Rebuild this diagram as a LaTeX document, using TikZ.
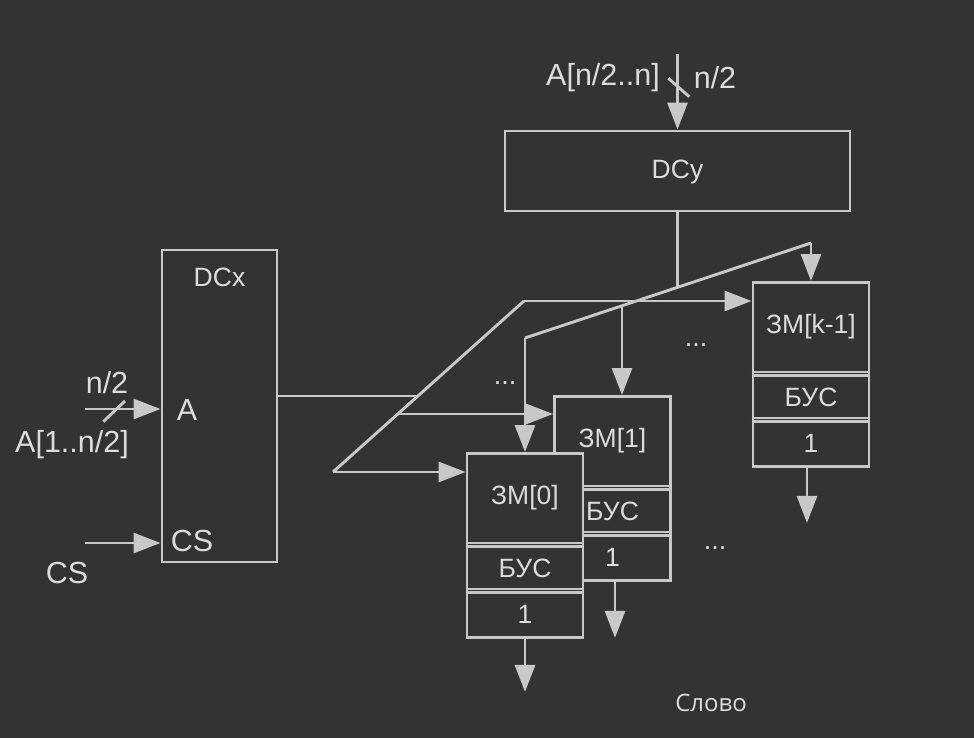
\documentclass[tikz,border=0pt]{standalone}
\usepackage{fontspec}
\setmainfont{Liberation Sans}
\newfontfamily\opensans{Open Sans}
\usetikzlibrary{arrows.meta,calc}
\definecolor{bgc}{HTML}{333333}
\definecolor{linec}{HTML}{C8C8C8}
\definecolor{txtc}{HTML}{DCDCDC}
\tikzset{
  ln/.style={draw=linec, line width=2.9pt},
  arr/.style={ln, -{Triangle[length=27pt,width=20pt]}},
  blk/.style={rectangle, draw=linec, fill=bgc, line width=2.9pt, inner sep=0pt},
  zmbox/.style={blk, minimum width=116pt, minimum height=184pt},
  lbl/.style={text=txtc, inner sep=0pt, font=\fontsize{26.5}{31}\selectfont},
  biglbl/.style={text=txtc, inner sep=0pt, font=\fontsize{30.5}{35}\selectfont},
  dotlbl/.style={text=txtc, inner sep=0pt, font=\fontsize{27}{31}\selectfont},
}
\newcommand\zmunit[4]{%
  \node[zmbox, anchor=north] (#1) at (#2,#3) {};
  \draw[ln] ($(#1.north west)+(0,91)$) -- ($(#1.north east)+(0,91)$);
  \draw[ln] ($(#1.north west)+(0,94.8)$) -- ($(#1.north east)+(0,94.8)$);
  \draw[ln] ($(#1.north west)+(0,137)$) -- ($(#1.north east)+(0,137)$);
  \draw[ln] ($(#1.north west)+(0,140.8)$) -- ($(#1.north east)+(0,140.8)$);
  \node[lbl] (#1t) at ($(#1.north)+(0,45.5)$) {#4};
  \node[lbl] (#1b) at ($(#1.north)+(0,116)$) {БУС};
  \node[lbl] (#1o) at ($(#1.north)+(0,162)$) {1};
}
\begin{document}
\begin{tikzpicture}[x=1pt,y=-1pt]
\fill[bgc] (0,0) rectangle (974,738);
\useasboundingbox (0,0) rectangle (974,738);

% decoders
\node[blk, minimum width=345pt, minimum height=80pt] (dcy) at (677.5,171) {};
\node[lbl] (dcyt) at (677.5,172) {DCy};
\node[blk, minimum width=115pt, minimum height=312pt] (dcx) at (219.5,406) {};
\node[lbl] (dcxt) at (219.5,277) {DCx};
\node[biglbl] (dcxa) at (187,410) {A};
\node[biglbl] (dcxcs) at (192,541) {CS};

% memory cells
\zmunit{zmk}{811}{281}{ЗМ[k-1]}
\zmunit{zmone}{612.5}{395}{ЗМ[1]}
\zmunit{zmzero}{525}{452}{ЗМ[0]}

% top input
\coordinate (ytop) at (677.5,54);
\draw[arr] (ytop) -- (ytop |- dcy.north);
\draw[ln] (668.3,78.3) -- (689.3,96.7);
\node[biglbl, anchor=east] (lyin) at (660,78) {A[n/2..n]};
\node[biglbl] (lyn) at (715,78) {n/2};

% left inputs
\coordinate (ain) at (85,409);
\draw[arr] (ain) -- (ain -| dcx.west);
\draw[ln] (103.3,421.7) -- (125,401);
\node[biglbl] (lxn) at (107,383) {n/2};
\node[biglbl] (lxin) at (72,445) {A[1..n/2]};
\coordinate (csin) at (85,543);
\draw[arr] (csin) -- (csin -| dcx.west);
\node[biglbl] (lcs) at (67,573) {CS};

% DCy bus
\coordinate (jy) at (677.5,287.2);
\coordinate (b0) at (525,338);
\coordinate (b1) at (622,305.6);
\coordinate (bk) at (811,243);
\draw[ln] (dcy.south) -- (jy);
\draw[ln] (b0) -- (bk);
\draw[arr] (b0) -- (b0 |- zmzero.north);
\draw[arr] (b1) -- (b1 |- zmone.north);
\draw[arr] (bk) -- (bk |- zmk.north);

% DCx bus
\coordinate (jx) at (418,396);
\coordinate (x0) at (333,472);
\coordinate (x1) at (397.8,414);
\coordinate (xk) at (524,301);
\draw[ln] (dcx.east |- jx) -- (jx);
\draw[ln] (x0) -- (xk);
\draw[arr] (xk) -- (xk -| zmk.west);
\draw[arr] (x1) -- (x1 -| zmone.west);
\draw[arr] (x0) -- (x0 -| zmzero.west);

% outputs
\draw[arr] (zmzero.south) -- ++(0,53);
\draw[arr] ([xshift=2.5pt]zmone.south) -- ++(0,56);
\draw[arr] ([xshift=-4pt]zmk.south) -- ++(0,55);

% dots
\node[dotlbl] (d1) at (505,383) {...};
\node[dotlbl] (d2) at (696,345) {...};
\node[dotlbl] (d3) at (715,548) {...};

\node[text=txtc, inner sep=0pt, font=\opensans\fontsize{24}{28}\selectfont] (slovo) at (711,703) {Слово};
\end{tikzpicture}
\end{document}
